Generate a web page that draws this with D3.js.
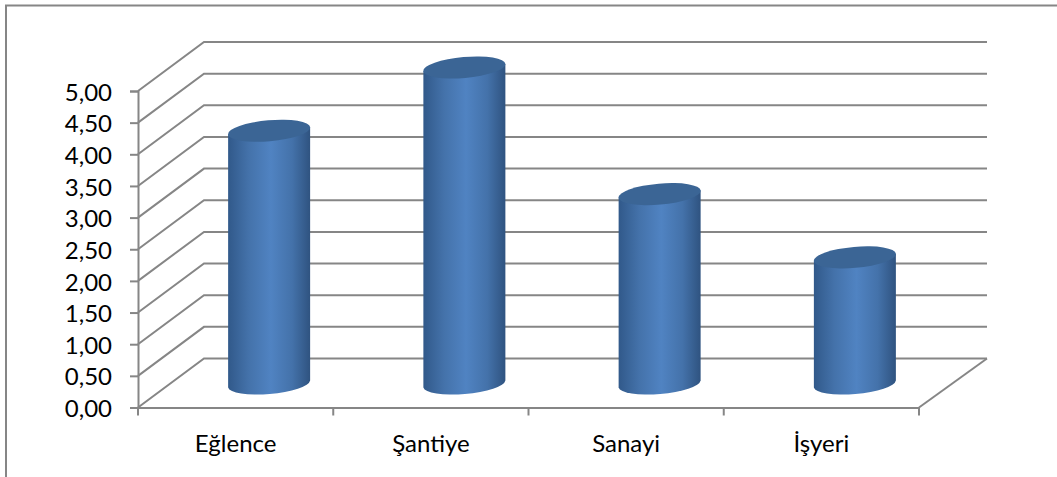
<!DOCTYPE html>
<html>
<head>
<meta charset="utf-8">
<script src="https://cdn.jsdelivr.net/npm/d3@7"></script>
<style>
  html, body { margin: 0; padding: 0; background: #fff; }
  text { font-family: Lato, "Open Sans", sans-serif; fill: #000; }
</style>
</head>
<body>
<svg id="chart"></svg>
<script>
const categories = ['Eğlence', 'Şantiye', 'Sanayi', 'İşyeri'];
const values = [4, 5, 3, 2];
const yTicks = [0, 0.5, 1, 1.5, 2, 2.5, 3, 3.5, 4, 4.5, 5];

function makeCylinderChart() {
    let w = 1057;
    let h = 477;
    let gridColor = '#868686';

    // shift from the front plane of the 3d box to its back wall
    let depthX = 66;
    let depthY = -49;

    let svg = d3.select('#chart')
        .attr('width', w)
        .attr('height', h)
        .style('display', 'block');

    let defs = svg.append('defs');
    let grad = defs.append('linearGradient').attr('id', 'barGrad');
    grad.append('stop').attr('offset', '0%').attr('stop-color', '#31598a');
    grad.append('stop').attr('offset', '25%').attr('stop-color', '#4472aa');
    grad.append('stop').attr('offset', '52%').attr('stop-color', '#5083c2');
    grad.append('stop').attr('offset', '78%').attr('stop-color', '#4472aa');
    grad.append('stop').attr('offset', '100%').attr('stop-color', '#2f5380');

    let yScale = d3.scaleLinear()
        .domain([0, 5])
        .range([407.5, 91]);

    let xScale = d3.scaleBand()
        .domain(categories)
        .range([138, 919]);

    // outer frame, only top and left are visible
    svg.append('path')
        .attr('d', `M6,${h} V5.5 H${w}`)
        .attr('fill', 'none')
        .attr('stroke', gridColor)
        .attr('stroke-width', 2);

    // gridlines: side wall then back wall
    svg.append('g')
        .selectAll('path')
        .data(yTicks)
        .enter()
        .append('path')
        .attr('d', d => {
            let y = yScale(d);
            return `M138,${y} L${138 + depthX},${y + depthY} H987`;
        })
        .attr('fill', 'none')
        .attr('stroke', gridColor)
        .attr('stroke-width', 2);

    // right edge of the floor
    svg.append('path')
        .attr('d', `M919,${yScale(0)} L987,${yScale(0) + depthY}`)
        .attr('fill', 'none')
        .attr('stroke', gridColor)
        .attr('stroke-width', 2);

    let yAxis = d3.axisLeft(yScale)
        .tickValues(yTicks)
        .tickSize(8)
        .tickPadding(18)
        .tickFormat(d => d3.format('.2f')(d).replace('.', ','));
    let yAxisGroup = svg.append('g')
        .attr('transform', 'translate(138, 0)')
        .call(yAxis);
    yAxisGroup.selectAll('text').attr('dy', '0.38em');

    let xAxis = d3.axisBottom(xScale)
        .tickSize(0)
        .tickPadding(27);
    let xAxisGroup = svg.append('g')
        .attr('transform', `translate(0, ${yScale(0)})`)
        .call(xAxis);

    // separators between categories sit on the band edges
    svg.append('g')
        .selectAll('line')
        .data(categories.concat([null]))
        .enter()
        .append('line')
        .attr('x1', (d, i) => xScale.range()[0] + i * xScale.step())
        .attr('x2', (d, i) => xScale.range()[0] + i * xScale.step())
        .attr('y1', yScale(0))
        .attr('y2', yScale(0) + 8)
        .attr('stroke', gridColor)
        .attr('stroke-width', 2);

    [yAxisGroup, xAxisGroup].forEach(g => {
        g.selectAll('.domain, .tick line')
            .attr('stroke', gridColor)
            .attr('stroke-width', 2);
        g.selectAll('text')
            .style('font-size', '24px');
    });

    // cylinders
    let rx = 41.2;
    let ry = 10.5;
    let tilt = -5;
    let halfW = 41;
    let halfH = 3.5;
    let barShiftX = 0.5;
    let barShiftY = 1;

    let bars = svg.append('g')
        .selectAll('g')
        .data(values)
        .enter()
        .append('g');

    bars.append('path')
        .attr('d', (d, i) => {
            let cx = xScale(categories[i]) + xScale.bandwidth() / 2 + depthX / 2 + barShiftX;
            let top = yScale(d) + depthY / 2 + barShiftY;
            let bottom = yScale(0) + depthY / 2 + barShiftY;
            return `M${cx - halfW},${top + halfH}` +
                ` L${cx - halfW},${bottom + halfH}` +
                ` A${rx},${ry} ${tilt} 0 0 ${cx + halfW},${bottom - halfH}` +
                ` L${cx + halfW},${top - halfH} Z`;
        })
        .attr('fill', 'url(#barGrad)');

    bars.append('ellipse')
        .attr('rx', rx)
        .attr('ry', ry)
        .attr('fill', '#3b6595')
        .attr('transform', (d, i) => {
            let cx = xScale(categories[i]) + xScale.bandwidth() / 2 + depthX / 2 + barShiftX;
            let top = yScale(d) + depthY / 2 + barShiftY;
            return `translate(${cx},${top}) rotate(${tilt})`;
        });
}

window.onload = function() {
    makeCylinderChart();
}
</script>
</body>
</html>
